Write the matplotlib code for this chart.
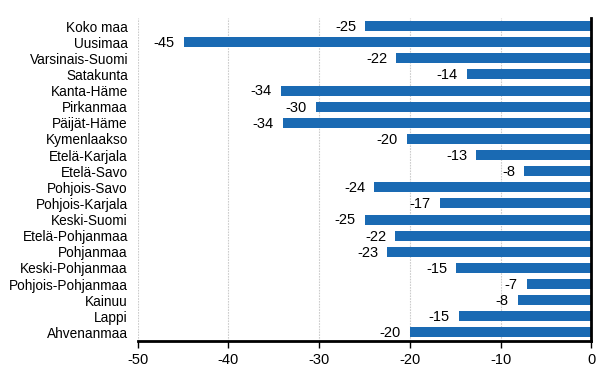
import numpy as np
import matplotlib.pyplot as plt

plt.rcParams['font.family'] = ['Liberation Sans', 'DejaVu Sans']
plt.rcParams['axes.unicode_minus'] = False

alueet = ['Koko maa', 'Uusimaa', 'Varsinais-Suomi', 'Satakunta', 'Kanta-Häme',
          'Pirkanmaa', 'Päijät-Häme', 'Kymenlaakso', 'Etelä-Karjala', 'Etelä-Savo',
          'Pohjois-Savo', 'Pohjois-Karjala', 'Keski-Suomi', 'Etelä-Pohjanmaa',
          'Pohjanmaa', 'Keski-Pohjanmaa', 'Pohjois-Pohjanmaa', 'Kainuu', 'Lappi',
          'Ahvenanmaa']
arvot = [-24.9, -44.9, -21.5, -13.7, -34.2, -30.4, -34.0, -20.3, -12.7, -7.4,
         -23.9, -16.7, -25.0, -21.6, -22.5, -14.9, -7.1, -8.1, -14.6, -20.0]
merkit = [-25, -45, -22, -14, -34, -30, -34, -20, -13, -8,
          -24, -17, -25, -22, -23, -15, -7, -8, -15, -20]

fig = plt.figure(figsize=(6.14, 3.78), dpi=100)
ax = fig.add_axes([0.2243, 0.0992, 0.7387, 0.853])

y = np.arange(len(alueet))
ax.barh(y, arvot, height=0.62, color='#1a6ab3', zorder=3)
for yi, v, m in zip(y, arvot, merkit):
    ax.text(v - 1.0, yi + 0.05, str(m), ha='right', va='center', fontsize=10.5, color='black')

ax.set_ylim(len(alueet) - 0.5, -0.5)
ax.set_xlim(-50, 0)
ax.set_yticks(y)
ax.set_yticklabels(alueet, fontsize=9.8)
ax.set_xticks(np.arange(-50, 1, 10))
ax.tick_params(axis='x', labelsize=10.5, length=5, width=1, direction='out', color='black', pad=4)
ax.tick_params(axis='y', length=0, pad=7)

ax.grid(axis='x', color='#cccccc', linestyle=(0, (1.5, 1)), linewidth=0.8, zorder=0)
for s in ['top', 'left']:
    ax.spines[s].set_visible(False)
ax.spines['right'].set_linewidth(2)
ax.spines['right'].set_zorder(4)
ax.spines['bottom'].set_linewidth(2)

fig.savefig('out.png', dpi=100)
